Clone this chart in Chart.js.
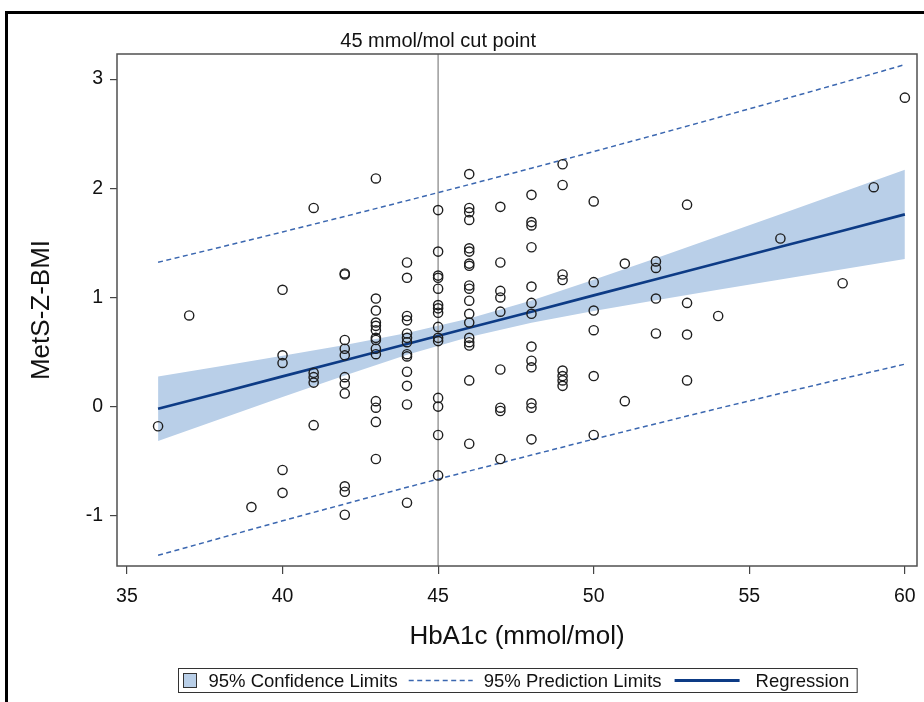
<!DOCTYPE html>
<html>
<head>
<meta charset="utf-8">
<script src="https://cdn.jsdelivr.net/npm/chart.js@4.4.1/dist/chart.umd.min.js"></script>
<style>
html,body{margin:0;padding:0;background:#fff;overflow:hidden}
#wrap{position:relative;width:924px;height:702px}
</style>
</head>
<body>
<div id="wrap"><canvas id="c" width="924" height="702"></canvas></div>
<script>
// ---------- data ----------
const hba1cLevels = [36, 37, 39, 40, 41, 42, 43, 44, 45, 46, 47, 48, 49, 50, 51, 52, 53, 54, 56, 58, 59, 60];
const metsZByLevel = [
  [-0.18],
  [0.835],
  [-0.92],
  [1.07, 0.47, 0.40, -0.58, -0.79],
  [1.82, 0.31, 0.27, 0.22, -0.17],
  [1.22, 1.21, 0.61, 0.53, 0.47, 0.27, 0.21, 0.12, -0.73, -0.78, -0.99],
  [2.09, 0.99, 0.88, 0.77, 0.74, 0.70, 0.63, 0.61, 0.53, 0.48, 0.05, -0.01, -0.14, -0.48],
  [1.32, 1.18, 0.83, 0.79, 0.67, 0.63, 0.59, 0.48, 0.46, 0.32, 0.19, 0.02, -0.88],
  [1.80, 1.42, 1.20, 1.18, 1.08, 0.93, 0.90, 0.86, 0.73, 0.63, 0.60, 0.08, 0.00, -0.26, -0.63],
  [2.13, 1.82, 1.78, 1.71, 1.45, 1.42, 1.31, 1.29, 1.11, 1.08, 0.97, 0.85, 0.77, 0.63, 0.59, 0.56, 0.24, -0.34],
  [1.83, 1.32, 1.06, 1.00, 0.87, 0.34, -0.01, -0.04, -0.48],
  [1.94, 1.69, 1.66, 1.46, 1.10, 0.95, 0.85, 0.55, 0.42, 0.36, 0.03, -0.01, -0.30],
  [2.22, 2.03, 1.21, 1.16, 0.33, 0.28, 0.24, 0.19],
  [1.88, 1.14, 0.88, 0.70, 0.28, -0.26],
  [1.31, 0.05],
  [1.33, 1.27, 0.99, 0.67],
  [1.85, 0.95, 0.66, 0.24],
  [0.83],
  [1.54],
  [1.13],
  [2.01],
  [2.83]
];

const fitX    = [36, 38, 40, 42, 44, 46, 48, 50, 52, 54, 56, 58, 60];
const fitY    = [-0.020, 0.128, 0.277, 0.425, 0.574, 0.722, 0.870, 1.019, 1.167, 1.316, 1.464, 1.612, 1.761];
const ciUpper = [0.275, 0.369, 0.465, 0.565, 0.674, 0.806, 0.972, 1.162, 1.359, 1.561, 1.763, 1.966, 2.170];
const ciLower = [-0.315, -0.113, 0.089, 0.285, 0.474, 0.638, 0.768, 0.876, 0.975, 1.071, 1.165, 1.258, 1.352];
const piUpper = [1.322, 1.460, 1.600, 1.742, 1.887, 2.034, 2.184, 2.336, 2.491, 2.648, 2.807, 2.968, 3.133];
const piLower = [-1.362, -1.204, -1.046, -0.892, -0.739, -0.590, -0.444, -0.298, -0.157, -0.016, 0.121, 0.256, 0.389];

const xTicks = [35, 40, 45, 50, 55, 60];
const yTicks = [-1, 0, 1, 2, 3];
const xRange = [34.68, 60.39];
const yRange = [-1.46, 3.23];

const cutPoint = 45;
const cutLabel = '45 mmol/mol cut point';
const xTitle = 'HbA1c (mmol/mol)';
const yTitle = 'MetS-Z-BMI';
const legendLabels = ['95% Confidence Limits', '95% Prediction Limits', 'Regression'];

// ---------- styling ----------
const FONT = '"Liberation Sans", Arial, Helvetica, sans-serif';
const BAND = '#b9cfe8';
const PI_COLOR = '#3b67b0';
const REG_COLOR = '#0d3b85';
const MARK = '#1e1e1e';

const pts = [];
hba1cLevels.forEach((x, i) => metsZByLevel[i].forEach(y => pts.push({x: x, y: y})));
const xy = arr => fitX.map((x, i) => ({x: x, y: arr[i]}));

const framePlugin = {
  id: 'frames',
  beforeDraw(chart) {
    const ctx = chart.ctx;
    ctx.save();
    ctx.fillStyle = '#fff';
    ctx.fillRect(0, 0, chart.width, chart.height);
    ctx.restore();
  },
  afterDraw(chart) {
    const ctx = chart.ctx, a = chart.chartArea, xs = chart.scales.x;
    ctx.save();
    // plot frame
    ctx.strokeStyle = '#505050';
    ctx.lineWidth = 1.5;
    ctx.strokeRect(a.left, a.top, a.right - a.left, a.bottom - a.top);
    // outer frame (left + top visible)
    ctx.strokeStyle = '#000';
    ctx.lineWidth = 3;
    ctx.beginPath();
    ctx.moveTo(6.5, chart.height);
    ctx.lineTo(6.5, 12.5);
    ctx.lineTo(chart.width, 12.5);
    ctx.stroke();
    // cut point label
    ctx.fillStyle = '#111';
    ctx.font = '20px ' + FONT;
    ctx.textAlign = 'center';
    ctx.textBaseline = 'middle';
    ctx.fillText(cutLabel, xs.getPixelForValue(cutPoint), a.top - 13);
    // legend
    ctx.font = '18.5px ' + FONT;
    const symW = [13, 64, 65];
    const gapSym = [12, 11, 16];
    const gapTxt = [11, 13, 0];
    const padL = 5, padR = 8;
    const tw = legendLabels.map(t => ctx.measureText(t).width);
    let total = padL + padR;
    for (let i = 0; i < 3; i++) total += symW[i] + gapSym[i] + tw[i] + gapTxt[i];
    const left = Math.round((a.left + a.right) / 2 - total / 2) + 0.5;
    const top = 668.5, h = 24, cy = top + h / 2;
    ctx.strokeStyle = '#333';
    ctx.lineWidth = 1;
    ctx.strokeRect(left, top, total, h);
    let x = left + padL;
    ctx.textAlign = 'left';
    ctx.textBaseline = 'middle';
    for (let i = 0; i < 3; i++) {
      if (i === 0) {
        ctx.fillStyle = BAND;
        ctx.fillRect(x, cy - 7, symW[0], 14);
        ctx.strokeStyle = '#333';
        ctx.lineWidth = 1;
        ctx.strokeRect(x, cy - 7, symW[0], 14);
      } else if (i === 1) {
        ctx.strokeStyle = PI_COLOR;
        ctx.lineWidth = 1.5;
        ctx.setLineDash([5, 3.5]);
        ctx.beginPath(); ctx.moveTo(x, cy); ctx.lineTo(x + symW[1], cy); ctx.stroke();
        ctx.setLineDash([]);
      } else {
        ctx.strokeStyle = REG_COLOR;
        ctx.lineWidth = 3;
        ctx.beginPath(); ctx.moveTo(x, cy); ctx.lineTo(x + symW[2], cy); ctx.stroke();
      }
      x += symW[i] + gapSym[i];
      ctx.fillStyle = '#111';
      ctx.fillText(legendLabels[i], x, cy + 1);
      x += tw[i] + gapTxt[i];
    }
    ctx.restore();
  }
};

new Chart(document.getElementById('c'), {
  type: 'line',
  data: {
    datasets: [
      { label: legendLabels[0], data: xy(ciUpper), borderWidth: 0, pointRadius: 0, fill: '+1', backgroundColor: BAND, borderColor: BAND, order: 6 },
      { label: 'ciLower', data: xy(ciLower), borderWidth: 0, pointRadius: 0, fill: false, borderColor: BAND, order: 6 },
      { label: 'cut', data: [{x: cutPoint, y: yRange[0]}, {x: cutPoint, y: yRange[1]}], borderColor: '#9b9b9b', borderWidth: 1.5, pointRadius: 0, fill: false, order: 5 },
      { label: legendLabels[1], data: xy(piUpper), borderColor: PI_COLOR, borderWidth: 1.5, borderDash: [5, 3.5], pointRadius: 0, fill: false, order: 4 },
      { label: 'piLower', data: xy(piLower), borderColor: PI_COLOR, borderWidth: 1.5, borderDash: [5, 3.5], pointRadius: 0, fill: false, order: 4 },
      { label: legendLabels[2], data: xy(fitY), borderColor: REG_COLOR, borderWidth: 2.6, pointRadius: 0, fill: false, order: 3 },
      { label: 'Observed', data: pts, showLine: false, pointRadius: 4.6, pointBorderWidth: 1.4, pointBorderColor: MARK, pointBackgroundColor: 'rgba(0,0,0,0)', borderColor: MARK, order: 1 }
    ]
  },
  options: {
    responsive: false,
    animation: false,
    devicePixelRatio: 1,
    layout: { padding: { left: 0, right: 7, top: 54, bottom: 46 } },
    plugins: { legend: { display: false }, tooltip: { enabled: false } },
    scales: {
      x: {
        type: 'linear', min: xRange[0], max: xRange[1],
        afterBuildTicks: s => { s.ticks = xTicks.map(v => ({value: v})); },
        afterFit: s => { s.height = 90; s.paddingLeft = 0; s.paddingRight = 0; },
        grid: { display: true, drawOnChartArea: false, drawTicks: true, tickLength: 8, color: '#444', lineWidth: 1.2 },
        border: { display: false },
        ticks: { font: { family: FONT, size: 19.5 }, color: '#111', padding: 11, maxRotation: 0, autoSkip: false },
        title: { display: true, text: xTitle, font: { family: FONT, size: 26 }, color: '#111', padding: { top: 0, bottom: 4 } }
      },
      y: {
        type: 'linear', min: yRange[0], max: yRange[1],
        afterBuildTicks: s => { s.ticks = yTicks.map(v => ({value: v})); },
        afterFit: s => { s.width = 117; s.paddingTop = 0; s.paddingBottom = 0; },
        grid: { display: true, drawOnChartArea: false, drawTicks: true, tickLength: 7, color: '#444', lineWidth: 1.2 },
        border: { display: false },
        ticks: { font: { family: FONT, size: 19.5 }, color: '#111', padding: 7, autoSkip: false },
        title: { display: true, text: yTitle, font: { family: FONT, size: 26 }, color: '#111', padding: { top: 26, bottom: 0 } }
      }
    }
  },
  plugins: [framePlugin]
});
</script>
</body>
</html>
